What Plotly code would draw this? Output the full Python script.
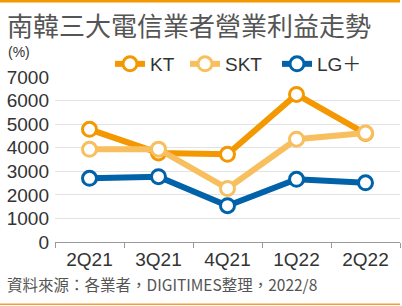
import plotly.graph_objects as go

categories = ["2Q21", "3Q21", "4Q21", "1Q22", "2Q22"]
kt = [4780, 3780, 3720, 6260, 4600]
skt = [3930, 3940, 2270, 4360, 4620]
lg = [2700, 2770, 1540, 2660, 2510]
y_ticks = [0, 1000, 2000, 3000, 4000, 5000, 6000, 7000]

series = [("KT", kt, "#F39800", "legend"),
          ("SKT", skt, "#F8BF5E", "legend2"),
          ("LG＋", lg, "#0062A9", "legend3")]

font_lat = "Liberation Sans, Arial, Noto Sans CJK TC"
H = 165.0  # plot height in px
W = 345.0  # plot width in px

fig = go.Figure()
for name, vals, col, lgd in series:
    fig.add_trace(go.Scatter(
        x=categories, y=vals, name=name, mode="lines+markers",
        line=dict(color=col, width=6),
        marker=dict(size=14, color="white", line=dict(color=col, width=3)),
        cliponaxis=False, legend=lgd,
    ))

def lg_layout(px_x):
    return dict(orientation="h", x=(px_x - 55) / W, y=(242 - 64) / H,
                xanchor="left", yanchor="middle",
                font=dict(family=font_lat, size=19, color="#333"),
                itemwidth=30, bgcolor="rgba(0,0,0,0)")

fig.update_layout(
    width=402, height=306,
    margin=dict(l=55, r=2, t=77, b=64),
    paper_bgcolor="white", plot_bgcolor="white",
    showlegend=True,
    legend=lg_layout(110),
    legend2=lg_layout(185),
    legend3=lg_layout(277),
    xaxis=dict(type="category", range=[-0.5, 4.5], showgrid=False,
               showline=True, linecolor="#999", linewidth=1,
               ticks="outside", tickson="boundaries", ticklen=5, tickcolor="#999",
               tickfont=dict(family=font_lat, size=19, color="#333")),
    yaxis=dict(range=[0, 7000], tickvals=y_ticks, showgrid=True, gridcolor="#E3E3E3",
               gridwidth=1, zeroline=False, showline=False,
               tickfont=dict(family=font_lat, size=19, color="#333"), ticklabelstandoff=5),
    font=dict(family=font_lat),
)

# top and bottom orange rules
fig.add_shape(type="rect", xref="paper", yref="paper",
              x0=-55 / W, x1=345 / W, y0=(242 - 2.5) / H, y1=(242 + 2) / H,
              fillcolor="#F39800", line_width=0, layer="above")
fig.add_shape(type="rect", xref="paper", yref="paper",
              x0=-55 / W, x1=345 / W, y0=-(303.5 - 242) / H, y1=-(305 - 242) / H,
              fillcolor="#F0A030", line_width=0, layer="above")

fig.add_annotation(text="南韓三大電信業者營業利益走勢", xref="paper", yref="paper",
                   x=-50 / W, y=(242 - 25) / H, xanchor="left", yanchor="middle",
                   showarrow=False, font=dict(family="Noto Sans CJK TC", size=26, color="#555"))
fig.add_annotation(text="(%)", xref="paper", yref="paper",
                   x=-49 / W, y=(242 - 52) / H, xanchor="left", yanchor="middle",
                   showarrow=False, font=dict(family=font_lat, size=14, color="#333"))
fig.add_annotation(text="資料來源：各業者，DIGITIMES整理，2022/8", xref="paper", yref="paper",
                   x=-50 / W, y=-(284 - 242) / H, xanchor="left", yanchor="middle",
                   showarrow=False, font=dict(family="Noto Sans CJK TC", size=15.5, color="#555"))

fig.write_html("out.html")
